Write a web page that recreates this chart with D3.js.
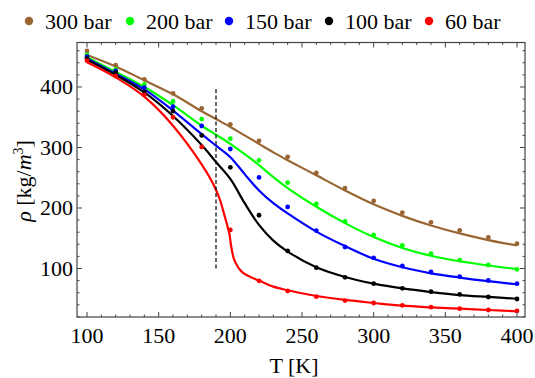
<!DOCTYPE html>
<html>
<head>
<meta charset="utf-8">
<script src="https://cdn.jsdelivr.net/npm/d3@7"></script>
<style>
  html, body { margin: 0; padding: 0; background: #fff; }
  svg { display: block; }
  svg text { font-family: 'Liberation Serif', 'Times New Roman', serif; fill: #000; }
</style>
</head>
<body>
<svg id="chart" width="535" height="378"></svg>
<script>
// ---------- data ----------
const seriesNames = ["300 bar", "200 bar", "150 bar", "100 bar", "60 bar"];
const seriesColors = ["#996633", "#00ff00", "#0000ff", "#000000", "#ff0000"];

// measured points (every 20 K)
const pointT = [100,120,140,160,180,200,220,240,260,280,300,320,340,360,380,400];
const pts300 = [459.5,436,412.7,389.5,364.8,338.3,311,284.3,258,233,211.6,192.3,176.4,163.1,151.6,141];
const pts200 = [453,429,404.5,376,347,314.6,278.8,241.8,206.6,178,155.4,138.3,124.5,114,105.8,98.7];
const pts150 = [450,426.5,399,367.5,335.5,297.5,250.5,201.7,162.5,135.5,117.4,104.1,94.2,86.7,80.2,74.9];
const pts100 = [447,423.7,392,360,320,267.3,188,129,101.4,85.4,74.9,67.2,61.7,57.3,52.9,49.6];
const pts60  = [443.5,418,387,350,300.8,163.8,79.6,62.8,53.4,47,43,39.2,36,33.6,31.4,29.8];

// model curves
const curveT = [100,120,140,160,180,190,200,210,220,230,240,260,280,300,320,340,360,380,400];
const fit300 = [453,434,411,388,360,347,334,320,306,292,279,254,229,206,187,171,158,147,138];
const fit200 = [449,425,400,370,336,321,306,289,271,251,233,202,175,152,134,121,112,105,99];
const fit150 = [447,422,396,361,322,303,284,256,229,208,191,161,137,116,102,92,85,79,74];
const fit100 = [445,420,391,352,304,276,248,208,172,146,128,102,86,75,67,61,56,53,50];
const curveT60 = [100,120,140,160,170,180,185,190,193,196,198,199.5,200.5,202,204,207,210,214,220,230,240,260,280,300,320,340,360,380,400];
const fit60    = [441,416,384,336,306,272,253,230,212,187,170,155,138,120,108,97,91,86,80,70,64,54.5,48,43,38.5,35.8,33.6,31.4,29.2];

const criticalT = 190;
const criticalRange = [100, 400];

const xMajor = [100,150,200,250,300,350,400];
const yMajor = [100,200,300,400];

// ---------- layout ----------
const svg = d3.select("#chart");
const L = 77, R = 525, T = 42.5, B = 317;
const x = d3.scaleLinear().domain([93.02, 405.58]).range([L, R]);
const y = d3.scaleLinear().domain([19.83, 473.55]).range([B, T]);

const pointSets = [pts300, pts200, pts150, pts100, pts60];
const fitSets = [
  {t: curveT, v: fit300}, {t: curveT, v: fit200}, {t: curveT, v: fit150},
  {t: curveT, v: fit100}, {t: curveT60, v: fit60}
];

// curves
const gPlot = svg.append("g");
fitSets.forEach((s, i) => {
  const line = d3.line().x(d => x(d[0])).y(d => y(d[1]))
    .curve(i === 4 ? d3.curveMonotoneX : d3.curveCatmullRom.alpha(0.5));
  gPlot.append("path")
    .datum(s.t.map((t, k) => [t, s.v[k]]))
    .attr("d", line)
    .attr("fill", "none")
    .attr("stroke", seriesColors[i])
    .attr("stroke-width", 2.2)
    .attr("stroke-linejoin", "round");
});

// points
pointSets.forEach((arr, i) => {
  gPlot.selectAll(null).data(arr.map((v, k) => [pointT[k], v])).enter()
    .append("circle")
    .attr("cx", d => x(d[0])).attr("cy", d => y(d[1]))
    .attr("r", 2.4).attr("fill", seriesColors[i]);
});

// dashed vertical line
gPlot.append("line")
  .attr("x1", x(criticalT)).attr("x2", x(criticalT))
  .attr("y1", y(criticalRange[0])).attr("y2", y(criticalRange[1]))
  .attr("stroke", "#000").attr("stroke-width", 1.2)
  .attr("stroke-dasharray", "4,2.5");

// frame + ticks
const frameColor = "#444";
const gAx = svg.append("g");
const xTicksMinor = d3.range(100, 401, 10).filter(v => !xMajor.includes(v));
const yTicksMinor = d3.range(20, 471, 20).filter(v => !yMajor.includes(v));

function ticksX(vals, len) {
  vals.forEach(v => {
    gAx.append("line").attr("x1", x(v)).attr("x2", x(v)).attr("y1", B).attr("y2", B - len)
      .attr("stroke", frameColor).attr("stroke-width", 1);
    gAx.append("line").attr("x1", x(v)).attr("x2", x(v)).attr("y1", T).attr("y2", T + len)
      .attr("stroke", frameColor).attr("stroke-width", 1);
  });
}
function ticksY(vals, len) {
  vals.forEach(v => {
    gAx.append("line").attr("x1", L).attr("x2", L + len).attr("y1", y(v)).attr("y2", y(v))
      .attr("stroke", frameColor).attr("stroke-width", 1);
    gAx.append("line").attr("x1", R).attr("x2", R - len).attr("y1", y(v)).attr("y2", y(v))
      .attr("stroke", frameColor).attr("stroke-width", 1);
  });
}
ticksX(xMajor, 5); ticksX(xTicksMinor, 2.5);
ticksY(yMajor, 5); ticksY(yTicksMinor, 2.5);

gAx.append("rect").attr("x", L).attr("y", T).attr("width", R - L).attr("height", B - T)
  .attr("fill", "none").attr("stroke", frameColor).attr("stroke-width", 1.2);

// tick labels
const fs = 22;
gAx.selectAll(null).data(xMajor).enter().append("text")
  .attr("x", d => x(d)).attr("y", 342.5)
  .attr("text-anchor", "middle").style("font-size", fs + "px").text(d => d);
gAx.selectAll(null).data(yMajor).enter().append("text")
  .attr("x", 73).attr("y", d => y(d)).attr("dy", "0.34em")
  .attr("text-anchor", "end").style("font-size", fs + "px").text(d => d);

// axis titles
svg.append("text").attr("x", 294).attr("y", 372.5).attr("text-anchor", "middle")
  .style("font-size", fs + "px").text("T [K]");
const yl = svg.append("text").attr("transform", "translate(31,181) rotate(-90)")
  .attr("text-anchor", "middle").style("font-size", fs + "px");
yl.append("tspan").style("font-style", "italic").text("ρ");
yl.append("tspan").text(" [kg/");
yl.append("tspan").style("font-style", "italic").text("m");
yl.append("tspan").style("font-size", "14px").attr("dy", -8).text("3");
yl.append("tspan").attr("dy", 8).text("]");

// legend
const legendX = [29, 130, 229, 329, 429];
const gLeg = svg.append("g");
seriesNames.forEach((n, i) => {
  gLeg.append("circle").attr("cx", legendX[i]).attr("cy", 21).attr("r", 4.2).attr("fill", seriesColors[i]);
  gLeg.append("text").attr("x", legendX[i] + 16).attr("y", 29)
    .style("font-size", fs + "px").text(n);
});
</script>
</body>
</html>
